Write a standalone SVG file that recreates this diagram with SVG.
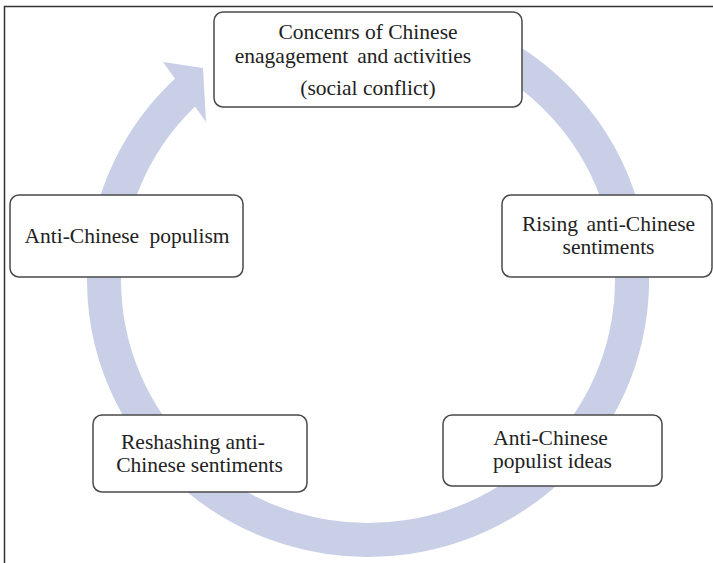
<svg xmlns="http://www.w3.org/2000/svg" width="713" height="563" viewBox="0 0 713 563">
<style>
.box{fill:#fff;stroke:#4a4a4a;stroke-width:1.5}
.t{font-family:"Liberation Serif","Times New Roman",serif;font-size:21.5px;fill:#222;text-anchor:middle}
.ring{fill:none;stroke:#c8cfe6;stroke-width:34}
</style>
<rect x="0" y="0" width="713" height="563" fill="#fff"/>
<path d="M4.5 570 V6.5 H720" fill="none" stroke="#333" stroke-width="1.5"/>
<g id="connectors">
<path class="ring" d="M479.6 44.4 A264 260 0 1 1 191.4 86.8"/>
<polygon points="163,62 203,68 206,122" fill="#c8cfe6"/>
</g>
<g id="n1">
<rect class="box" x="214" y="12" width="308" height="95" rx="9"/>
<text class="t" x="368" y="39">Concenrs of Chinese</text>
<text class="t" x="353" y="62.5">enagagement<tspan dx="9">and activities</tspan></text>
<text class="t" x="368" y="95">(social conflict)</text>
</g>
<g id="n2">
<rect class="box" x="502" y="195" width="210" height="82" rx="9"/>
<text class="t" x="608.5" y="230.5" word-spacing="3">Rising anti-Chinese</text>
<text class="t" x="608.5" y="253.5">sentiments</text>
</g>
<g id="n3">
<rect class="box" x="443" y="415" width="219" height="71" rx="9"/>
<text class="t" x="550.5" y="444.5">Anti-Chinese</text>
<text class="t" x="552.5" y="467.5">populist ideas</text>
</g>
<g id="n4">
<rect class="box" x="93" y="415" width="214" height="77" rx="9"/>
<text class="t" x="193" y="448.5">Reshashing anti-</text>
<text class="t" x="199.5" y="472">Chinese sentiments</text>
</g>
<g id="n5">
<rect class="box" x="10" y="195" width="233" height="82" rx="9"/>
<text class="t" x="127" y="242.5" word-spacing="5">Anti-Chinese populism</text>
</g>
</svg>
